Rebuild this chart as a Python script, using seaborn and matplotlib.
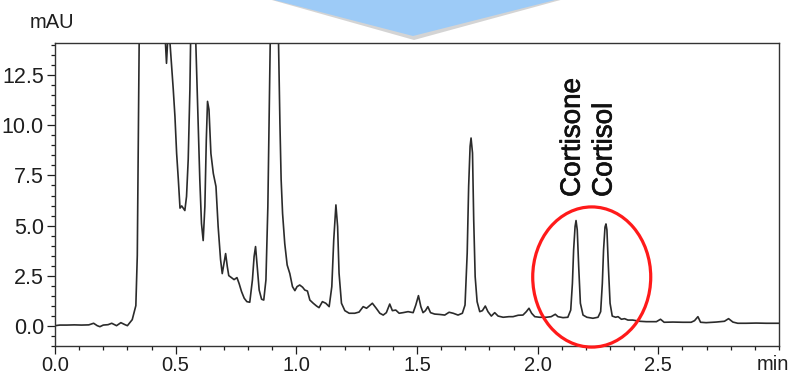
import pandas as pd
import matplotlib.pyplot as plt
import seaborn as sns
import matplotlib.patheffects as pe
from matplotlib.patches import Ellipse, Polygon
from matplotlib.ticker import MultipleLocator, FormatStrFormatter, FixedLocator

# -------------------------------
# Trace (min, mAU)
# values above 14.1 are off scale and get clipped by the axes
# -------------------------------
time_min = [
    0.000, 0.020, 0.050, 0.080, 0.110, 0.140, 0.160, 0.175, 0.186, 0.200,
    0.220, 0.235, 0.255, 0.273, 0.290, 0.300, 0.320, 0.335, 0.341, 0.345,
    0.349, 0.400, 0.456, 0.462, 0.468, 0.472, 0.476, 0.490, 0.497, 0.504,
    0.511, 0.518, 0.525, 0.531, 0.538, 0.545, 0.552, 0.559, 0.562, 0.572,
    0.583, 0.591, 0.600, 0.607, 0.614, 0.621, 0.627, 0.632, 0.638, 0.646,
    0.656, 0.667, 0.676, 0.686, 0.693, 0.700, 0.707, 0.714, 0.720, 0.731,
    0.742, 0.754, 0.763, 0.773, 0.784, 0.795, 0.807, 0.818, 0.825, 0.831,
    0.838, 0.846, 0.856, 0.865, 0.874, 0.882, 0.887, 0.892, 0.909, 0.926,
    0.932, 0.937, 0.943, 0.952, 0.962, 0.973, 0.984, 0.994, 1.003, 1.014,
    1.026, 1.035, 1.046, 1.056, 1.070, 1.084, 1.094, 1.108, 1.122, 1.136,
    1.147, 1.155, 1.164, 1.171, 1.177, 1.187, 1.201, 1.219, 1.242, 1.260,
    1.277, 1.291, 1.315, 1.331, 1.346, 1.360, 1.373, 1.387, 1.398, 1.412,
    1.426, 1.442, 1.463, 1.484, 1.495, 1.506, 1.516, 1.525, 1.535, 1.545,
    1.556, 1.573, 1.594, 1.615, 1.633, 1.650, 1.670, 1.688, 1.699, 1.708,
    1.714, 1.720, 1.724, 1.730, 1.735, 1.741, 1.749, 1.760, 1.771, 1.783,
    1.794, 1.808, 1.822, 1.836, 1.857, 1.881, 1.898, 1.919, 1.939, 1.953,
    1.964, 1.975, 1.988, 2.008, 2.036, 2.056, 2.073, 2.084, 2.105, 2.125,
    2.137, 2.144, 2.149, 2.155, 2.159, 2.164, 2.170, 2.177, 2.188, 2.204,
    2.229, 2.250, 2.261, 2.268, 2.273, 2.279, 2.283, 2.287, 2.293, 2.300,
    2.309, 2.323, 2.333, 2.347, 2.360, 2.374, 2.394, 2.422, 2.450, 2.492,
    2.509, 2.524, 2.560, 2.602, 2.636, 2.650, 2.664, 2.675, 2.698, 2.739,
    2.774, 2.791, 2.809, 2.829, 2.864, 2.906, 2.947, 3.000,
]
signal_mau = [
    0.00, 0.03, 0.03, 0.04, 0.03, 0.04, 0.12, 0.00, -0.05, 0.03,
    0.05, 0.12, 0.00, 0.15, 0.05, 0.00, 0.30, 1.00, 3.50, 9.00,
    14.5, 40.0, 14.5, 13.1, 14.5, 16.0, 14.2, 11.8, 10.45, 8.60,
    7.30, 5.87, 5.98, 5.87, 5.75, 6.45, 8.30, 11.8, 14.3, 25.0,
    14.3, 10.95, 7.30, 5.10, 4.25, 5.95, 9.30, 11.2, 10.8, 8.60,
    7.60, 6.95, 4.95, 3.30, 2.60, 3.10, 3.60, 2.95, 2.50, 2.40,
    2.30, 2.40, 2.10, 1.70, 1.37, 1.20, 1.17, 2.28, 3.45, 3.95,
    2.95, 1.78, 1.32, 1.28, 2.28, 5.95, 10.1, 14.3, 40.0, 14.3,
    10.1, 7.30, 5.60, 4.10, 3.03, 2.60, 1.95, 1.75, 1.95, 2.03,
    1.92, 1.78, 1.73, 1.28, 1.12, 0.98, 0.90, 1.20, 1.12, 0.95,
    1.95, 4.28, 6.03, 4.95, 2.62, 1.12, 0.75, 0.62, 0.62, 0.68,
    0.95, 0.87, 1.12, 0.87, 0.62, 0.53, 0.65, 1.08, 0.75, 0.78,
    0.62, 0.65, 0.70, 0.65, 1.03, 1.50, 0.95, 0.65, 0.75, 0.95,
    0.65, 0.58, 0.56, 0.53, 0.67, 0.62, 0.53, 0.62, 1.03, 3.62,
    6.95, 8.95, 9.37, 8.62, 5.28, 2.45, 1.20, 0.70, 0.75, 0.98,
    0.70, 0.48, 0.65, 0.48, 0.42, 0.45, 0.45, 0.52, 0.53, 0.70,
    0.87, 0.62, 0.45, 0.42, 0.42, 0.45, 0.57, 0.45, 0.40, 0.42,
    0.78, 2.12, 3.78, 4.95, 5.25, 4.78, 2.95, 1.12, 0.53, 0.42,
    0.37, 0.42, 0.70, 2.12, 3.78, 4.92, 5.08, 4.78, 2.95, 1.12,
    0.48, 0.42, 0.45, 0.32, 0.35, 0.28, 0.28, 0.22, 0.20, 0.20,
    0.32, 0.17, 0.18, 0.17, 0.17, 0.25, 0.45, 0.17, 0.15, 0.18,
    0.22, 0.35, 0.18, 0.12, 0.12, 0.13, 0.12, 0.12,
]

peak_names = ["Cortisone", "Cortisol"]
peak_times = [2.145, 2.277]

df = pd.DataFrame({"time": time_min, "mAU": signal_mau})

# -------------------------------
# Style
# -------------------------------
sns.set_style("ticks")
plt.rcParams['font.family'] = ['Liberation Sans', 'DejaVu Sans']
ink = '#1e1e1e'
thick = [pe.withStroke(linewidth=0.5, foreground='#111111')]

fig = plt.figure(figsize=(7.9, 3.76), dpi=100)
ax = fig.add_axes([55/790, 1 - 345.7/376, 724/790, 302.4/376])

sns.lineplot(data=df, x="time", y="mAU", sort=False, estimator=None,
             color='#2b2b2b', lw=1.2, ax=ax)

ax.set_xlim(0, 3.0)
ax.set_ylim(-1.0, 14.1)
ax.set_xlabel("")
ax.set_ylabel("")

ax.xaxis.set_major_locator(FixedLocator([0.0, 0.5, 1.0, 1.5, 2.0, 2.5]))
ax.xaxis.set_minor_locator(MultipleLocator(0.1))
ax.yaxis.set_major_locator(MultipleLocator(2.5))
ax.yaxis.set_minor_locator(MultipleLocator(0.5))
ax.xaxis.set_major_formatter(FormatStrFormatter('%.1f'))
ax.yaxis.set_major_formatter(FormatStrFormatter('%.1f'))

ax.tick_params(which='major', length=6, width=0.9, color=ink,
               labelcolor=ink)
ax.tick_params(which='minor', length=3, width=0.9, color=ink)
ax.tick_params(axis='y', pad=2, labelsize=15.5)
ax.tick_params(axis='x', pad=1.5, labelsize=14.5)

for sp in ax.spines.values():
    sp.set_color('#333333')
    sp.set_linewidth(1.0)

# peak labels
for name, t in zip(peak_names, peak_times):
    ax.text(t, 6.43, name, rotation=90, ha='center', va='bottom',
            fontsize=20, color='#111111', path_effects=thick)

# red circle round the two peaks
ax.add_patch(Ellipse((2.224, 2.43), width=0.489, height=7.0, fill=False,
                     ec='#ff1a1a', lw=2.3, clip_on=False, zorder=5))

# axis unit labels
fig.text(30/790, 1 - 23/376, "mAU", ha='left', va='center',
         fontsize=14.5, color=ink)
fig.text(773/790, 1 - 365/376, "min", ha='center', va='center',
         fontsize=14.5, color=ink)

# blue arrow tip poking in from the top
shadow = [(245/790, 1.02), (414/790, 1 - 40/376), (588/790, 1.02)]
arrow = [(245/790, 1.02), (413/790, 1 - 36/376), (585/790, 1.02)]
fig.patches.append(Polygon(shadow, closed=True, transform=fig.transFigure,
                           fc='#a0a0a0', ec='none', alpha=0.45))
fig.patches.append(Polygon(arrow, closed=True, transform=fig.transFigure,
                           fc='#9dcbf7', ec='none'))

fig.savefig("out.png", dpi=100)
